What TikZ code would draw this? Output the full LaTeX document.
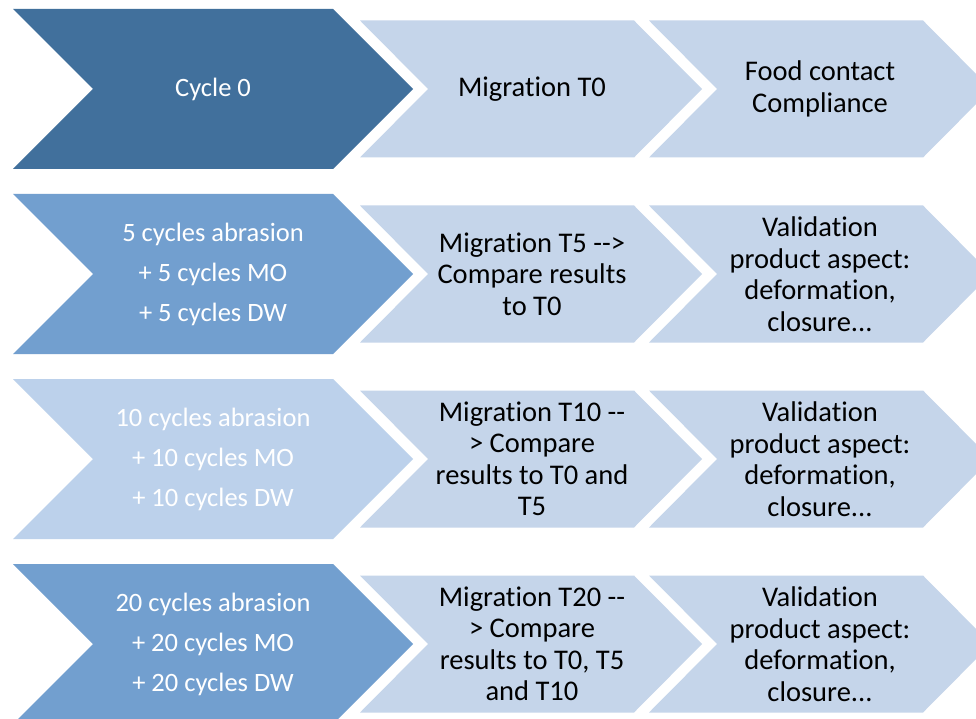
\documentclass[tikz,border=0pt]{standalone}
\usepackage{fontspec}
\setmainfont{Carlito}[Ligatures={TeXOff,CommonOff}]
\definecolor{darkblue}{HTML}{41709C}
\definecolor{midblue}{HTML}{729FCF}
\definecolor{paleblue}{HTML}{BCD1EB}
\definecolor{lightblue}{HTML}{C5D5EA}
\newcommand{\bigchev}[2]{% y-center, colour
  \fill[#2] (13,#1-80) -- (333,#1-80) -- (413,#1) -- (333,#1+80) -- (13,#1+80) -- (93,#1) -- cycle;}
\newcommand{\smallchev}[2]{% x-left, y-center
  \fill[lightblue] (#1,#2-68.5) -- (#1+274,#2-68.5) -- (#1+342,#2) -- (#1+274,#2+68.5) -- (#1,#2+68.5) -- (#1+68,#2) -- cycle;}
\tikzset{
  bigtext/.style={align=center, text=white, font=\fontsize{26.5}{40}\selectfont, inner sep=0pt},
  smalltext/.style={align=center, text=black, font=\fontsize{28.5}{31.5}\selectfont, inner sep=0pt}
}
\begin{document}
\begin{tikzpicture}[x=1pt,y=-1pt]
\useasboundingbox (0,0) rectangle (976,719);
\clip (0,0) rectangle (976,719);
\fill[white] (0,0) rectangle (976,719);
% row 1
\bigchev{89}{darkblue}
\smallchev{360}{89}
\smallchev{649}{89}
\node[bigtext] (c0) at (213,89) {Cycle 0};
\node[smalltext] (m0) at (532,89) {Migration T0};
\node[smalltext] (f0) at (820,89) {Food contact\\Compliance};
% row 2
\bigchev{274}{midblue}
\smallchev{360}{274}
\smallchev{649}{274}
\node[bigtext] (c5) at (213,274) {5 cycles abrasion\\+ 5 cycles MO\\+ 5 cycles DW};
\node[smalltext] (m5) at (532,274) {Migration T5 -->\\Compare results\\to T0};
\node[smalltext] (v5) at (820,274) {Validation\\product aspect:\\deformation,\\closure...};
% row 3
\bigchev{459}{paleblue}
\smallchev{360}{459}
\smallchev{649}{459}
\node[bigtext] (c10) at (213,459) {10 cycles abrasion\\+ 10 cycles MO\\+ 10 cycles DW};
\node[smalltext] (m10) at (532,459) {Migration T10 --\\> Compare\\results to T0 and\\T5};
\node[smalltext] (v10) at (820,459) {Validation\\product aspect:\\deformation,\\closure...};
% row 4
\bigchev{644}{midblue}
\smallchev{360}{644}
\smallchev{649}{644}
\node[bigtext] (c20) at (213,644) {20 cycles abrasion\\+ 20 cycles MO\\+ 20 cycles DW};
\node[smalltext] (m20) at (532,644) {Migration T20 --\\> Compare\\results to T0, T5\\and T10};
\node[smalltext] (v20) at (820,644) {Validation\\product aspect:\\deformation,\\closure...};
\end{tikzpicture}
\end{document}
